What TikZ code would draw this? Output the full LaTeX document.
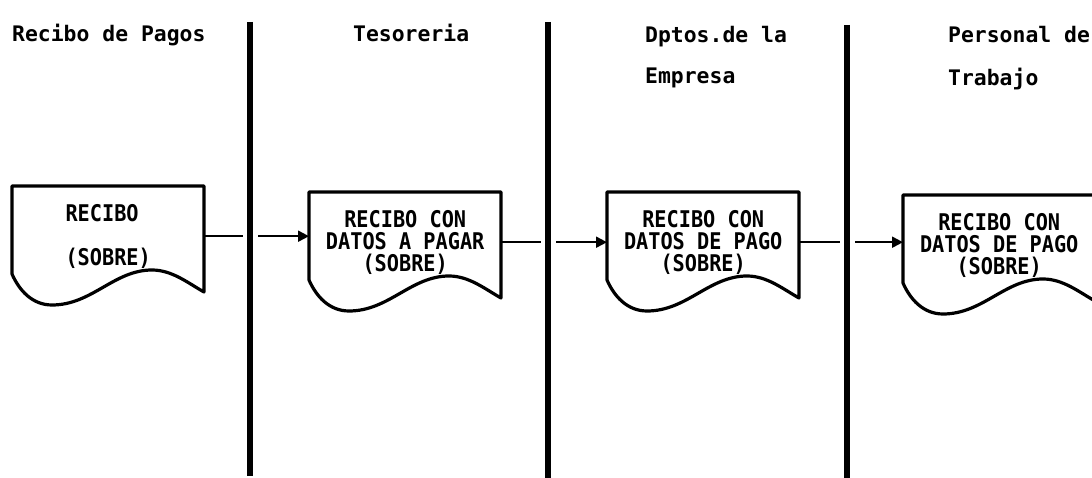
\documentclass[tikz,border=0pt]{standalone}
\usepackage{fontspec}
\newfontfamily\titlefont{DejaVu Sans Mono}
\newfontfamily\narrowfont[FakeStretch=0.88]{DejaVu Sans Mono}
\usetikzlibrary{arrows.meta,positioning}

\tikzset{
  lanetitle/.style={font=\titlefont\bfseries\fontsize{21.4}{25}\selectfont, inner sep=0pt, align=left, anchor=north west},
  docbox/.style={minimum width=192pt, minimum height=100pt, inner sep=0pt, align=center, anchor=north west,
    font=\narrowfont\bfseries\fontsize{23}{22}\selectfont},
  docline/.style={line width=3.2pt, line join=round},
  lane/.style={line width=5.5pt, preaction={draw, white, line width=15pt}},
  flow/.style={line width=2pt, -{Triangle[length=11pt,width=11pt]}}
}

\begin{document}
\begin{tikzpicture}[x=1pt,y=1pt]
\useasboundingbox (0,0) rectangle (1092,-478);

% lane titles
\node[lanetitle] (recibos) at (12,-24) {Recibo de Pagos};
\node[lanetitle] (tesoreria) at (353,-24) {Tesoreria};
\node[lanetitle] (dptos) at (645,-26) {Dptos.de la\\[16pt]Empresa};
\node[lanetitle] (personal) at (948,-26) {Personal de\\[18pt]Trabajo};

% documents
\node[docbox, align=left] (rp) at (12,-186) {RECIBO\\[22pt](SOBRE)};
\node[docbox] (te) at (309,-192) {RECIBO CON\\DATOS A PAGAR\\(SOBRE)};
\node[docbox] (de) at (607,-192) {RECIBO CON\\DATOS DE PAGO\\(SOBRE)};
\node[docbox] (pt) at (903,-195) {RECIBO CON\\DATOS DE PAGO\\(SOBRE)};

\foreach \n in {rp,te,de,pt}
  \draw[docline, shift={(\n.north west)}] (0,0) -- (192,0) -- (192,-106)
    .. controls (176,-97) and (160,-84) .. (140,-84)
    .. controls (102,-84) and (80,-119) .. (40,-119)
    .. controls (20,-119) and (7,-104) .. (0,-88) -- cycle;

% flow
\draw[flow] (rp.east) -- (rp.east -| te.west);
\draw[flow] (te.east) -- (te.east -| de.west);
\draw[flow] (de.east) -- (de.east -| pt.west);

% lanes
\draw[lane] (250,-22) -- (250,-476);
\draw[lane] (548,-22) -- (548,-478);
\draw[lane] (847,-25) -- (847,-478);
\end{tikzpicture}
\end{document}
